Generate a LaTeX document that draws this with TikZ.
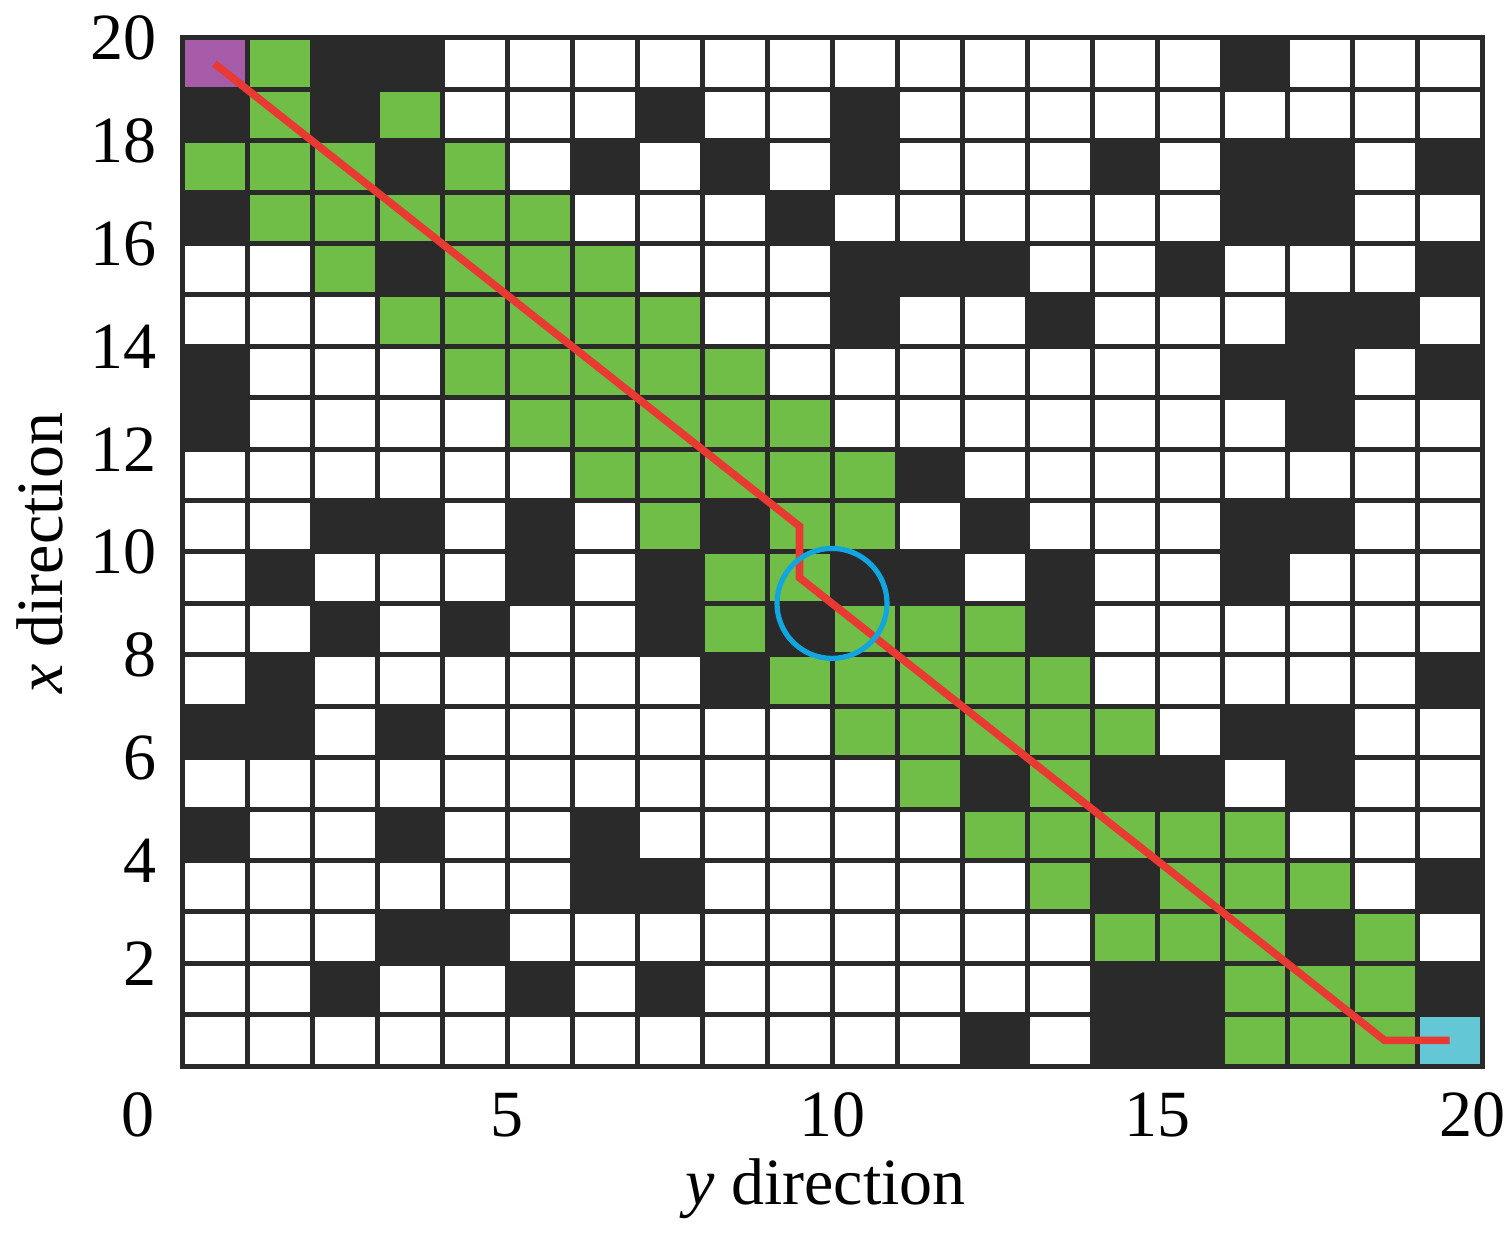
\documentclass[tikz,border=0pt]{standalone}
\usepackage{fontspec}
\setmainfont{Liberation Serif}
\definecolor{cK}{HTML}{2B2A2B}
\definecolor{cW}{HTML}{FFFFFF}
\definecolor{cG}{HTML}{70BD47}
\definecolor{cP}{HTML}{A65CA8}
\definecolor{cC}{HTML}{63C7D5}
\definecolor{pathred}{HTML}{E83A32}
\definecolor{circblue}{HTML}{12A6E0}
\begin{document}
\begin{tikzpicture}[x=32.5pt,y=25.7pt,
  lab/.style={font=\fontsize{33}{40}\selectfont, inner sep=0pt},
  gridline/.style={cK, line width=2.5pt},
  route/.style={pathred, line width=3.8pt},
  marker/.style={circblue, line width=2.6pt}]
\useasboundingbox (-2.8,-3.3074) rectangle (20.4615,20.7393);
% cells
\foreach \row [count=\j] in {
 {P,G,K,K,W,W,W,W,W,W,W,W,W,W,W,W,K,W,W,W},
 {K,G,K,G,W,W,W,K,W,W,K,W,W,W,W,W,W,W,W,W},
 {G,G,G,K,G,W,K,W,K,W,K,W,W,W,K,W,K,K,W,K},
 {K,G,G,G,G,G,W,W,W,K,W,W,W,W,W,W,K,K,W,W},
 {W,W,G,K,G,G,G,W,W,W,K,K,K,W,W,K,W,W,W,K},
 {W,W,W,G,G,G,G,G,W,W,K,W,W,K,W,W,W,K,K,W},
 {K,W,W,W,G,G,G,G,G,W,W,W,W,W,W,W,K,K,W,K},
 {K,W,W,W,W,G,G,G,G,G,W,W,W,W,W,W,W,K,W,W},
 {W,W,W,W,W,W,G,G,G,G,G,K,W,W,W,W,W,W,W,W},
 {W,W,K,K,W,K,W,G,K,G,G,W,K,W,W,W,K,K,W,W},
 {W,K,W,W,W,K,W,K,G,G,K,K,W,K,W,W,K,W,W,W},
 {W,W,K,W,K,W,W,K,G,K,G,G,G,K,W,W,W,W,W,W},
 {W,K,W,W,W,W,W,W,K,G,G,G,G,G,W,W,W,W,W,K},
 {K,K,W,K,W,W,W,W,W,W,G,G,G,G,G,W,K,K,W,W},
 {W,W,W,W,W,W,W,W,W,W,W,G,K,G,K,K,W,K,W,W},
 {K,W,W,K,W,W,K,W,W,W,W,W,G,G,G,G,G,W,W,W},
 {W,W,W,W,W,W,K,K,W,W,W,W,W,G,K,G,G,G,W,K},
 {W,W,W,K,K,W,W,W,W,W,W,W,W,W,G,G,G,K,G,W},
 {W,W,K,W,W,K,W,K,W,W,W,W,W,W,K,K,G,G,G,K},
 {W,W,W,W,W,W,W,W,W,W,W,W,K,W,K,K,G,G,G,C}} {
  \foreach \c [count=\i] in \row {
    \fill[fill=c\c] (\i-1,20-\j) rectangle (\i,21-\j);
  }
}
% grid lines
\foreach \k in {0,...,20} {
  \draw[gridline] (\k,0) -- (\k,20);
  \draw[gridline] (0,\k) -- (20,\k);
}
\draw[gridline, line join=miter] (0,0) rectangle (20,20);
% path
\coordinate (p0) at (0.5,19.5);
\coordinate (p1) at (9.5,10.5);
\coordinate (p2) at (9.5,9.5);
\coordinate (p3) at (18.5,0.5);
\coordinate (p4) at (19.5,0.5);
\draw[route] (p0) -- (p1) -- (p2) -- (p3) -- (p4);
% circle
\coordinate (cc) at (10,9);
\draw[marker] (cc) circle[radius=27.5pt];
% tick labels
\foreach \v in {2,4,...,20}
  \node[lab, anchor=east] (yt\v) at (-0.385,\v) {\v};
\node[lab] (xt0) at (-0.68,-0.953) {0};
\foreach \v in {5,10,15}
  \node[lab] (xt\v) at (\v,-0.953) {\v};
\node[lab] (xt20) at (19.86,-0.953) {20};
% axis titles
\node[lab, rotate=90] (xlab) at (-2.185,9.98) {\textit{x} direction};
\node[lab, anchor=base] (ylab) at (9.9,-2.70) {\textit{y} direction};
\end{tikzpicture}
\end{document}
